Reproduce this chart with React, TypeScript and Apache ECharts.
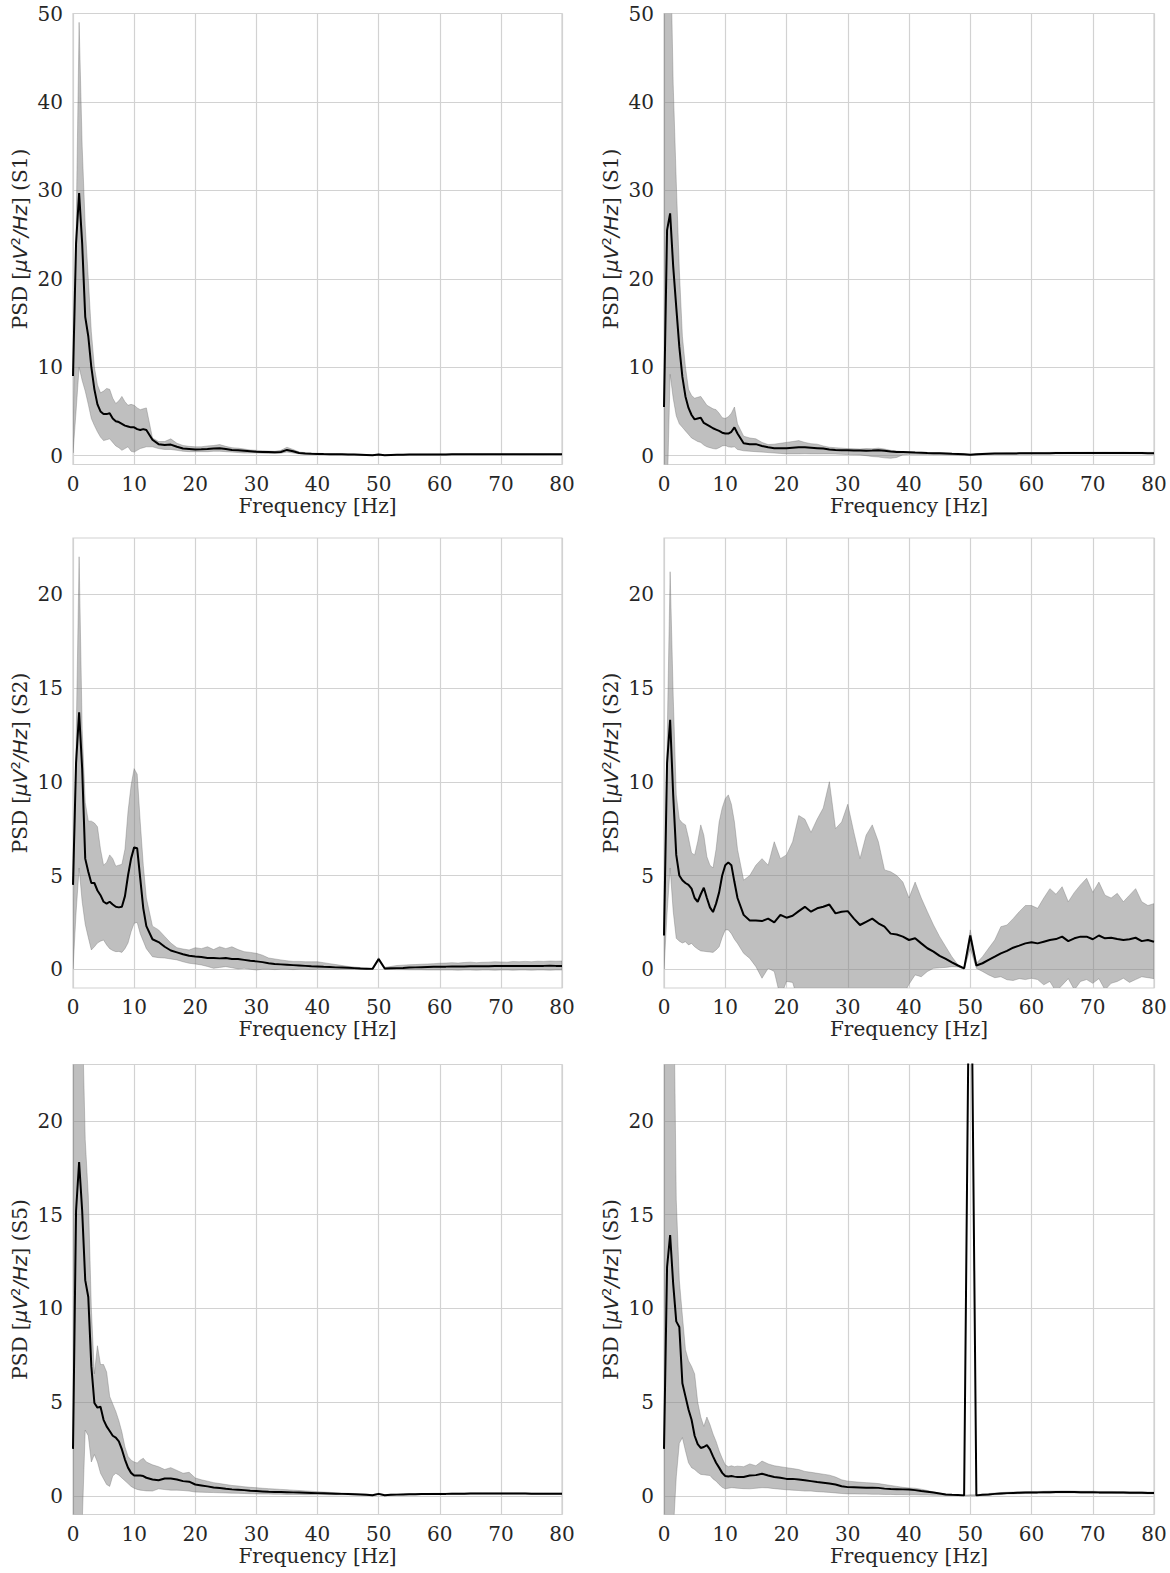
import React, { useEffect, useRef } from "react";
import * as echarts from "echarts";

// Frequency grid (Hz): 0.5 Hz steps up to 12 Hz, then 1 Hz steps
const freq = [0,0.5,1,1.5,2,2.5,3,3.5,4,4.5,5,5.5,6,6.5,7,7.5,8,8.5,9,9.5,10,10.5,11,11.5,12,
  13,14,15,16,17,18,19,20,21,22,23,24,25,26,27,28,29,30,31,32,33,34,35,36,37,38,39,40,
  41,42,43,44,45,46,47,48,49,50,51,52,53,54,55,56,57,58,59,60,61,62,63,64,65,66,67,68,69,70,
  71,72,73,74,75,76,77,78,79,80];

const xTicks = [0,10,20,30,40,50,60,70,80];
const yTicksTop = [0,10,20,30,40,50];
const yTicksLow = [0,5,10,15,20];

// ---- S1, left ----
const s1aMean = [9,24,29.7,24,15.7,13.5,10,7.5,5.8,5.0,4.7,4.7,4.8,4.2,3.9,3.8,3.6,3.4,3.3,3.2,3.2,3.0,2.9,3.0,2.9,
  1.8,1.3,1.2,1.25,1.0,0.8,0.75,0.7,
  0.72,0.75,0.82,0.85,0.75,0.65,0.6,0.55,0.5,0.45,
  0.42,0.4,0.38,0.42,0.65,0.5,0.3,0.25,0.22,0.2,
  0.18,0.17,0.16,0.15,0.14,0.12,0.1,0.08,0.05,0.12,
  0.05,0.08,0.1,0.11,0.12,0.12,0.13,0.13,0.14,0.14,
  0.14,0.15,0.15,0.15,0.16,0.15,0.15,0.16,0.16,0.15,
  0.15,0.16,0.15,0.15,0.16,0.15,0.15,0.16,0.15,0.15];
const s1aUpper = [1,25,49,35,26,20,14,10,8,7.1,7.3,7.6,7.5,6.5,5.9,6.2,6.7,6.1,5.7,5.8,5.7,5.4,5.2,5.3,5.4,
  2.0,1.6,1.6,1.9,1.4,1.15,1.05,1.0,
  1.0,1.1,1.15,1.25,1.05,0.9,0.85,0.75,0.65,0.6,
  0.55,0.52,0.5,0.6,0.95,0.7,0.42,0.34,0.3,0.27,
  0.24,0.22,0.21,0.2,0.19,0.17,0.15,0.12,0.09,0.16,
  0.09,0.12,0.14,0.15,0.16,0.16,0.17,0.17,0.18,0.18,
  0.18,0.19,0.19,0.19,0.2,0.19,0.19,0.2,0.2,0.19,
  0.19,0.2,0.19,0.19,0.2,0.19,0.19,0.2,0.19,0.19];
const s1aLower = [0.3,5,10,8.5,7.3,5.8,4.2,3.4,2.7,2.1,1.7,1.8,1.9,1.5,1.1,0.9,0.6,0.8,1.0,0.5,0.4,0.6,0.8,0.9,1.0,
  1.0,0.8,0.7,0.7,0.6,0.5,0.45,0.45,
  0.45,0.45,0.5,0.5,0.45,0.4,0.35,0.3,0.3,0.3,
  0.28,0.25,0.25,0.28,0.4,0.3,0.2,0.17,0.15,0.14,
  0.12,0.12,0.11,0.1,0.09,0.08,0.06,0.04,0.02,0.08,
  0.02,0.05,0.07,0.08,0.09,0.09,0.1,0.1,0.11,0.11,
  0.11,0.12,0.12,0.12,0.13,0.12,0.12,0.13,0.13,0.12,
  0.12,0.13,0.12,0.12,0.13,0.12,0.12,0.13,0.12,0.12];

// ---- S1, right ----
const s1bMean = [5.5,25.5,27.4,21.4,16.8,12.3,8.9,6.7,5.4,4.6,4.1,4.2,4.3,3.7,3.5,3.3,3.1,2.95,2.8,2.6,2.5,2.5,2.7,3.2,2.5,
  1.4,1.3,1.3,1.1,0.95,0.85,0.85,0.85,
  0.9,0.95,0.95,0.9,0.85,0.8,0.7,0.65,0.62,0.6,
  0.58,0.57,0.56,0.58,0.62,0.55,0.48,0.42,0.4,0.38,
  0.35,0.33,0.3,0.28,0.27,0.25,0.22,0.2,0.15,0.1,
  0.15,0.2,0.22,0.23,0.24,0.25,0.25,0.26,0.27,0.27,
  0.28,0.28,0.28,0.29,0.29,0.3,0.3,0.3,0.3,0.3,
  0.3,0.3,0.3,0.3,0.3,0.29,0.29,0.29,0.28,0.28];
const s1bUpper = [80,80,60,42,31,21,13.5,10,7.5,6.8,6.5,6.6,6.7,6.2,5.7,5.5,5.3,5.2,4.8,4.3,4.2,4.4,4.8,5.5,3.6,
  2.2,2.0,1.9,1.5,1.25,1.3,1.4,1.5,
  1.6,1.7,1.5,1.35,1.3,1.1,0.95,0.9,0.85,0.8,
  0.78,0.75,0.8,0.78,0.85,0.75,0.6,0.52,0.45,0.42,
  0.4,0.38,0.35,0.33,0.32,0.3,0.27,0.25,0.2,0.15,
  0.2,0.26,0.28,0.3,0.31,0.32,0.32,0.34,0.35,0.35,
  0.36,0.36,0.37,0.38,0.37,0.38,0.39,0.38,0.39,0.39,
  0.39,0.4,0.39,0.39,0.4,0.38,0.38,0.38,0.37,0.37];
const s1bLower = [-5,-5,9.2,6.5,4.5,3.6,3.2,2.8,2.4,2.0,1.8,1.6,1.5,1.2,1.0,0.9,0.8,0.75,0.9,1.1,1.15,1.0,0.95,1.0,0.7,
  0.55,0.5,0.45,0.4,0.35,0.3,0.25,0.2,
  0.2,0.2,0.22,0.2,0.2,0.2,0.2,0.18,0.15,0.12,
  0.1,0.08,0.0,-0.1,-0.15,-0.25,-0.3,-0.2,0.1,0.15,
  0.15,0.14,0.13,0.12,0.12,0.1,0.08,0.06,0.05,0.04,
  0.06,0.12,0.14,0.15,0.16,0.17,0.17,0.18,0.18,0.18,
  0.19,0.19,0.19,0.2,0.2,0.21,0.21,0.21,0.21,0.21,
  0.21,0.21,0.21,0.21,0.21,0.2,0.2,0.2,0.2,0.2];

// ---- S2, left ----
const s2aMean = [4.5,11,13.7,10.7,5.9,5.2,4.6,4.6,4.2,3.95,3.6,3.5,3.6,3.45,3.33,3.3,3.33,3.9,5.0,5.9,6.5,6.45,4.85,3.25,2.3,
  1.6,1.45,1.2,1.0,0.9,0.8,0.72,0.68,
  0.65,0.6,0.6,0.58,0.6,0.55,0.55,0.5,0.45,0.42,
  0.38,0.32,0.28,0.26,0.24,0.22,0.2,0.18,0.16,0.15,
  0.13,0.12,0.1,0.09,0.08,0.06,0.04,0.03,0.02,0.55,
  0.04,0.05,0.06,0.07,0.09,0.1,0.11,0.12,0.13,0.14,
  0.14,0.15,0.15,0.15,0.16,0.16,0.16,0.16,0.17,0.17,
  0.17,0.17,0.17,0.18,0.18,0.18,0.18,0.19,0.18,0.18];
const s2aUpper = [2,12,22,12.8,8.9,7.9,7.9,7.8,7.6,6.4,5.55,5.7,6.1,5.9,5.5,5.55,5.6,6.4,8.4,9.8,10.7,10.4,7.85,5.55,3.8,
  2.3,2.1,1.75,1.4,1.15,1.08,1.03,1.15,
  1.1,1.2,1.05,1.2,1.1,1.2,1.05,0.94,0.9,0.85,
  0.75,0.6,0.55,0.5,0.45,0.42,0.42,0.4,0.4,0.4,
  0.35,0.3,0.25,0.2,0.15,0.12,0.09,0.06,0.05,0.62,
  0.1,0.15,0.2,0.22,0.24,0.25,0.27,0.28,0.3,0.32,
  0.33,0.35,0.33,0.36,0.38,0.35,0.37,0.38,0.4,0.39,
  0.38,0.41,0.4,0.42,0.4,0.43,0.42,0.44,0.43,0.44];
const s2aLower = [0,3,5.4,3.6,2.4,1.7,1.03,1.2,1.4,1.5,1.56,1.3,1.1,1.0,0.94,0.95,0.9,1.1,1.4,2.0,2.45,2.5,1.9,1.5,1.1,
  0.67,0.62,0.6,0.55,0.5,0.4,0.32,0.28,
  0.23,0.15,0.05,0.1,0.14,0.08,0.02,0.05,0.0,-0.04,
  0.0,0.0,-0.02,0.0,0.0,-0.02,0.0,0.0,-0.01,0.0,
  0.0,0.0,-0.01,0.0,0.0,-0.01,0.0,0.0,0.0,0.45,
  0.0,-0.01,-0.02,-0.02,-0.03,-0.03,-0.03,-0.04,-0.04,-0.04,
  -0.04,-0.04,-0.05,-0.04,-0.04,-0.05,-0.04,-0.04,-0.05,-0.04,
  -0.04,-0.05,-0.04,-0.04,-0.05,-0.04,-0.04,-0.05,-0.04,-0.04];

// ---- S2, right ----
const s2bMean = [1.8,11,13.3,9.3,6.1,5.0,4.75,4.6,4.5,4.3,3.8,3.6,4.0,4.35,3.8,3.3,3.05,3.5,4.1,5.0,5.55,5.7,5.55,4.65,3.8,
  2.9,2.6,2.6,2.57,2.7,2.5,2.9,2.75,
  2.85,3.1,3.33,3.07,3.25,3.33,3.45,2.98,3.07,3.1,
  2.7,2.36,2.53,2.7,2.45,2.27,1.9,1.85,1.74,1.56,
  1.65,1.38,1.12,0.94,0.71,0.55,0.37,0.2,0.05,1.8,
  0.2,0.32,0.5,0.67,0.85,0.98,1.15,1.26,1.38,1.44,
  1.38,1.47,1.56,1.61,1.74,1.5,1.65,1.74,1.74,1.6,
  1.8,1.65,1.68,1.61,1.56,1.6,1.68,1.5,1.56,1.47];
const s2bUpper = [2,12,21.2,14.6,9.3,8.0,7.8,7.7,7.0,6.2,6.1,6.8,7.7,7.15,6.0,5.55,5.4,6.4,7.85,8.6,9.1,9.3,8.8,7.85,6.4,
  4.75,5.0,5.55,5.9,5.55,6.8,5.9,6.1,
  6.8,8.2,8.0,7.3,8.0,8.6,10.0,7.5,7.85,8.8,
  7.3,5.9,7.15,7.7,6.8,5.3,5.2,5.0,4.65,3.8,
  4.65,3.8,3.07,2.36,1.74,1.2,0.67,0.23,0.05,2.1,
  0.32,0.67,1.12,1.56,2.27,2.36,2.7,3.07,3.4,3.4,
  3.25,3.8,4.3,4.0,4.4,3.6,4.1,4.5,4.85,4.1,
  4.65,3.95,3.8,4.05,3.6,3.95,4.3,3.6,3.4,3.5];
const s2bLower = [0,3,5.4,3.1,1.65,1.5,1.4,1.47,1.3,1.38,1.2,1.08,0.98,0.96,0.94,0.92,0.9,1.03,1.2,1.7,2.1,2.1,1.9,1.6,1.38,
  0.85,0.58,0.14,-0.48,0.05,-0.12,-1.5,-0.65,
  -0.7,-1.8,-2.5,-2.2,-3,-2.8,-2.5,-3,-2.6,-2.2,
  -2.5,-1.9,-2.3,-2,-1.6,-1.8,-1.5,-1.3,-1.4,-0.8,
  -0.3,-0.4,-0.12,0.05,0.08,0.1,0.14,0.12,0.0,1.1,
  0.05,-0.12,-0.3,-0.45,-0.4,-0.56,-0.6,-0.5,-0.55,-0.48,
  -0.55,-0.83,-0.65,-1.2,-0.85,-0.5,-1.1,-0.65,-0.55,-0.75,
  -0.5,-1.1,-0.75,-0.65,-0.48,-0.7,-0.55,-0.4,-0.45,-0.5];

// ---- S5, left ----
const s5aMean = [2.5,15.2,17.8,15.2,11.5,10.6,6.9,4.95,4.7,4.75,4.05,3.7,3.45,3.2,3.1,2.9,2.47,1.93,1.5,1.22,1.08,1.08,1.08,1.05,0.96,
  0.87,0.83,0.92,0.92,0.87,0.78,0.75,0.6,
  0.55,0.5,0.44,0.41,0.37,0.34,0.32,0.3,0.27,0.25,
  0.23,0.21,0.2,0.2,0.19,0.18,0.17,0.16,0.15,0.14,
  0.13,0.12,0.11,0.1,0.09,0.08,0.07,0.05,0.03,0.1,
  0.03,0.05,0.06,0.07,0.08,0.08,0.09,0.09,0.1,0.1,
  0.1,0.11,0.11,0.11,0.12,0.12,0.12,0.12,0.12,0.12,
  0.12,0.12,0.12,0.12,0.11,0.11,0.11,0.11,0.11,0.11];
const s5aUpper = [60,60,40,26,19,16,10,6.5,8.0,7.0,7.0,6.6,5.3,4.9,4.5,4.0,3.4,2.6,2.1,1.9,1.8,1.75,1.9,2.0,1.8,
  1.65,1.55,1.4,1.5,1.35,1.2,1.25,0.95,
  0.85,0.78,0.7,0.65,0.6,0.55,0.52,0.48,0.45,0.43,
  0.4,0.38,0.36,0.34,0.32,0.3,0.28,0.26,0.24,0.22,
  0.2,0.18,0.16,0.15,0.13,0.12,0.1,0.08,0.06,0.14,
  0.06,0.08,0.09,0.1,0.11,0.11,0.12,0.12,0.13,0.13,
  0.13,0.14,0.14,0.14,0.15,0.15,0.15,0.15,0.15,0.15,
  0.15,0.15,0.15,0.15,0.14,0.14,0.14,0.14,0.14,0.14];
const s5aLower = [-5,-5,-4,-1.5,3.5,3.2,1.8,2.2,1.8,1.2,0.9,0.6,0.5,1.05,1.2,1.1,0.95,0.8,0.65,0.5,0.4,0.34,0.3,0.28,0.26,
  0.25,0.37,0.33,0.3,0.3,0.28,0.25,0.2,
  0.19,0.18,0.17,0.16,0.15,0.14,0.13,0.12,0.11,0.1,
  0.09,0.09,0.08,0.08,0.07,0.07,0.07,0.06,0.06,0.06,
  0.06,0.05,0.05,0.05,0.05,0.04,0.04,0.02,0.0,0.06,
  0.0,0.02,0.03,0.04,0.05,0.05,0.06,0.06,0.07,0.07,
  0.07,0.08,0.08,0.08,0.09,0.09,0.09,0.09,0.09,0.09,
  0.09,0.09,0.09,0.09,0.08,0.08,0.08,0.08,0.08,0.08];

// ---- S5, right ----
const s5bMean = [2.5,12.2,13.9,11.3,9.3,9.0,6.0,5.3,4.6,4.05,3.2,2.75,2.55,2.6,2.7,2.47,2.1,1.76,1.5,1.22,1.05,1.03,1.05,1.02,1.0,
  1.0,1.08,1.1,1.17,1.08,1.0,0.96,0.9,
  0.9,0.87,0.83,0.78,0.73,0.69,0.65,0.6,0.51,0.46,
  0.45,0.44,0.43,0.43,0.42,0.38,0.36,0.35,0.34,0.33,
  0.3,0.25,0.21,0.17,0.12,0.07,0.05,0.04,0.02,35,
  0.02,0.05,0.07,0.1,0.12,0.14,0.15,0.16,0.17,0.18,
  0.18,0.19,0.19,0.2,0.2,0.2,0.2,0.19,0.19,0.19,
  0.18,0.18,0.18,0.17,0.17,0.16,0.16,0.16,0.15,0.15];
const s5bUpper = [60,60,60,30,15.8,11.5,9.6,7.8,7.2,6.9,6.5,5.0,4.2,3.7,4.2,3.8,3.3,2.9,2.4,2.0,1.65,1.55,1.6,1.55,1.58,
  1.55,1.7,1.6,1.85,1.7,1.6,1.55,1.5,
  1.45,1.4,1.3,1.25,1.2,1.15,1.1,1.0,0.85,0.78,
  0.75,0.72,0.7,0.68,0.65,0.6,0.55,0.5,0.45,0.42,
  0.4,0.35,0.28,0.2,0.14,0.09,0.07,0.05,0.03,0.05,
  0.05,0.09,0.12,0.15,0.17,0.19,0.2,0.21,0.22,0.23,
  0.23,0.24,0.25,0.25,0.26,0.26,0.25,0.24,0.24,0.24,
  0.23,0.23,0.23,0.22,0.22,0.21,0.21,0.21,0.2,0.2];
const s5bLower = [-5,-5,-5,-2,1.0,2.8,3.1,2.4,1.76,1.5,1.4,1.25,1.14,1.12,1.1,1.08,0.9,0.78,0.6,0.45,0.37,0.4,0.43,0.42,0.4,
  0.38,0.37,0.4,0.43,0.42,0.38,0.35,0.32,
  0.3,0.28,0.25,0.25,0.22,0.2,0.18,0.15,0.12,0.1,
  0.1,0.09,0.09,0.08,0.08,0.07,0.07,0.06,0.06,0.05,
  0.05,0.04,0.04,0.03,0.03,0.02,0.02,0.01,0.0,0.0,
  0.0,0.02,0.03,0.05,0.07,0.09,0.1,0.11,0.12,0.13,
  0.13,0.14,0.14,0.15,0.15,0.15,0.15,0.14,0.14,0.14,
  0.13,0.13,0.13,0.12,0.12,0.11,0.11,0.11,0.1,0.1];

const panels = [
  { subj: "S1", mean: s1aMean, upper: s1aUpper, lower: s1aLower, ymax: 50, ticks: yTicksTop },
  { subj: "S1", mean: s1bMean, upper: s1bUpper, lower: s1bLower, ymax: 50, ticks: yTicksTop },
  { subj: "S2", mean: s2aMean, upper: s2aUpper, lower: s2aLower, ymax: 23, ticks: yTicksLow },
  { subj: "S2", mean: s2bMean, upper: s2bUpper, lower: s2bLower, ymax: 23, ticks: yTicksLow },
  { subj: "S5", mean: s5aMean, upper: s5aUpper, lower: s5aLower, ymax: 23, ticks: yTicksLow },
  { subj: "S5", mean: s5bMean, upper: s5bUpper, lower: s5bLower, ymax: 23, ticks: yTicksLow },
];

const TEXT = "#262626";
const GRIDC = "#d2d2d2";
const SERIF = "DejaVu Serif";
const FS = 20;

export default function App() {
  const ref = useRef<HTMLDivElement>(null);
  useEffect(() => {
    if (!ref.current) return;
    const chart = echarts.init(ref.current, undefined, { renderer: "svg" });
    const lefts = [73, 664];
    const widths = [489, 490];
    const tops = [13.5, 538, 1064.5];
    const heights = [451, 450, 450];
    const grid: any[] = [];
    const xAxis: any[] = [];
    const yAxis: any[] = [];
    const series: any[] = [];
    panels.forEach((p, i) => {
      const col = i % 2;
      const row = Math.floor(i / 2);
      grid.push({
        left: lefts[col], top: tops[row], width: widths[col], height: heights[row],
        show: true, borderColor: GRIDC, borderWidth: 1.2, backgroundColor: "transparent",
      });
      xAxis.push({
        gridIndex: i, type: "value", min: 0, max: 80, interval: 10,
        axisLine: { show: false }, axisTick: { show: false },
        axisLabel: { fontSize: FS, color: TEXT, fontFamily: SERIF, margin: 9, customValues: xTicks },
        splitLine: { show: true, lineStyle: { color: GRIDC, width: 1.2 } },
        name: "Frequency [Hz]", nameLocation: "middle", nameGap: 31,
        nameTextStyle: { fontSize: FS, color: TEXT, fontFamily: SERIF },
      });
      yAxis.push({
        gridIndex: i, type: "value", min: -1, max: p.ymax,
        axisLine: { show: false },
        axisTick: { show: false, customValues: p.ticks },
        axisLabel: { fontSize: FS, color: TEXT, fontFamily: SERIF, margin: 10, customValues: p.ticks },
        splitLine: { show: true, lineStyle: { color: GRIDC, width: 1.2 } },
        name: "PSD [{i|μV}{s|2}{i|/Hz}] (" + p.subj + ")",
        nameLocation: "middle", nameRotate: 90, nameGap: 43,
        nameTextStyle: {
          fontSize: FS, color: TEXT, fontFamily: SERIF,
          rich: {
            i: { fontSize: FS, color: TEXT, fontFamily: "DejaVu Sans", fontStyle: "italic" },
            s: { fontSize: 13, color: TEXT, fontFamily: "DejaVu Sans", verticalAlign: "top", padding: [0, 0, 8, 0] },
          },
        },
      });
      const up = p.upper;
      const lo = p.lower;
      series.push({
        type: "custom", xAxisIndex: i, yAxisIndex: i, clip: true, silent: true, z: 1,
        data: freq.map((f, k) => [f, lo[k], up[k]]),
        encode: { x: 0, y: [1, 2] },
        renderItem: (params: any, api: any) => {
          if (params.dataIndex !== 0) return null;
          const pts: number[][] = [];
          for (let k = 0; k < freq.length; k++) pts.push(api.coord([freq[k], up[k]]));
          for (let k = freq.length - 1; k >= 0; k--) pts.push(api.coord([freq[k], lo[k]]));
          const cs = params.coordSys;
          return {
            type: "group",
            clipPath: { type: "rect", shape: { x: cs.x, y: cs.y, width: cs.width, height: cs.height } },
            children: [{
              type: "polygon",
              shape: { points: pts },
              style: { fill: "rgba(128,128,128,0.5)", stroke: "rgba(110,110,110,0.45)", lineWidth: 0.8 },
            }],
          };
        },
      });
      series.push({
        type: "line", xAxisIndex: i, yAxisIndex: i,
        data: freq.map((f, k) => [f, p.mean[k]]),
        showSymbol: false, symbol: "none", silent: true, clip: true,
        lineStyle: { color: "#000000", width: 2 }, z: 3,
      });
    });
    chart.setOption({
      animation: false,
      backgroundColor: "#ffffff",
      grid, xAxis, yAxis, series,
    });
    return () => chart.dispose();
  }, []);
  return (
    <div
      ref={ref}
      style={{ position: "absolute", left: 0, top: 0, width: 1170, height: 1573 }}
    />
  );
}
